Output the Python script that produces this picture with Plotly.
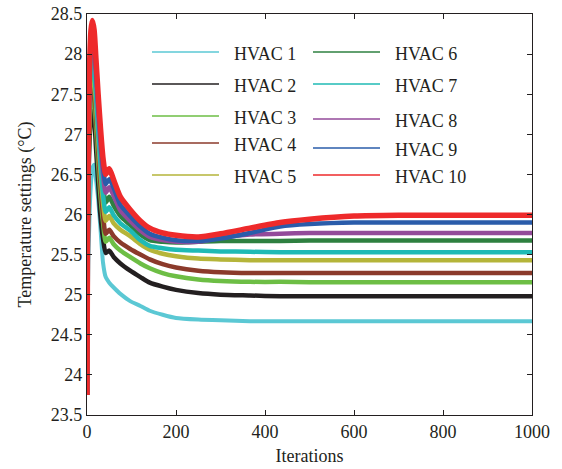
import plotly.graph_objects as go

# Iteration grid at which the temperature settings are sampled
iterations = [0, 1, 3, 6, 9, 12, 16, 20, 25, 30, 36, 42, 50, 60, 75, 97,
              120, 141, 170, 200, 250, 300, 366, 434, 500, 600, 700, 1000]

hvac1 = [23.75, 24.50, 25.40, 26.05, 26.40, 26.57, 26.62, 26.45, 26.20, 25.85, 25.40, 25.22, 25.15, 25.09,
         25.01, 24.92, 24.86, 24.80, 24.75, 24.71, 24.69, 24.68, 24.67, 24.67, 24.67, 24.67, 24.67, 24.67]
hvac2 = [23.75, 25.10, 26.30, 26.95, 27.20, 27.29, 27.20, 26.85, 26.40, 26.00, 25.70, 25.52, 25.55, 25.47,
         25.39, 25.30, 25.22, 25.15, 25.10, 25.06, 25.02, 25.00, 24.99, 24.98, 24.98, 24.98, 24.98, 24.98]
hvac3 = [23.75, 25.20, 26.50, 27.15, 27.45, 27.57, 27.45, 27.10, 26.65, 26.25, 25.90, 25.66, 25.71, 25.63,
         25.55, 25.47, 25.39, 25.33, 25.27, 25.23, 25.19, 25.17, 25.16, 25.16, 25.155, 25.155, 25.155, 25.155]
hvac4 = [23.75, 25.25, 26.60, 27.25, 27.57, 27.70, 27.58, 27.25, 26.80, 26.40, 26.00, 25.76, 25.81, 25.73,
         25.65, 25.57, 25.50, 25.44, 25.38, 25.34, 25.30, 25.28, 25.27, 25.27, 25.27, 25.27, 25.27, 25.27]
hvac5 = [23.75, 25.30, 26.70, 27.40, 27.72, 27.85, 27.72, 27.38, 26.95, 26.55, 26.15, 25.92, 25.98, 25.89,
         25.81, 25.73, 25.63, 25.56, 25.51, 25.48, 25.45, 25.44, 25.43, 25.43, 25.43, 25.43, 25.43, 25.43]
hvac6 = [23.75, 25.35, 26.85, 27.60, 27.93, 28.07, 27.95, 27.60, 27.15, 26.75, 26.37, 26.15, 26.22, 26.11,
         25.98, 25.87, 25.75, 25.68, 25.66, 25.65, 25.66, 25.67, 25.67, 25.67, 25.675, 25.675, 25.675, 25.675]
hvac7 = [23.75, 25.35, 26.80, 27.52, 27.85, 27.98, 27.85, 27.50, 27.05, 26.65, 26.25, 26.03, 26.09, 25.99,
         25.89, 25.80, 25.68, 25.61, 25.58, 25.56, 25.55, 25.54, 25.535, 25.53, 25.53, 25.53, 25.53, 25.53]
hvac8 = [23.75, 25.40, 26.90, 27.75, 28.12, 28.25, 28.10, 27.75, 27.30, 26.90, 26.50, 26.27, 26.34, 26.23,
         26.05, 25.92, 25.80, 25.72, 25.68, 25.66, 25.66, 25.71, 25.75, 25.76, 25.77, 25.77, 25.77, 25.77]
hvac9 = [23.75, 25.45, 26.95, 27.82, 28.20, 28.33, 28.20, 27.85, 27.40, 27.00, 26.60, 26.38, 26.44, 26.33,
         26.12, 25.98, 25.85, 25.76, 25.71, 25.68, 25.67, 25.70, 25.77, 25.85, 25.88, 25.90, 25.90, 25.90]
hvac10 = [23.75, 25.50, 27.00, 27.90, 28.30, 28.42, 28.30, 27.95, 27.50, 27.10, 26.70, 26.50, 26.57, 26.43,
          26.22, 26.06, 25.92, 25.83, 25.77, 25.74, 25.72, 25.76, 25.83, 25.90, 25.94, 25.98, 25.99, 25.99]

series = [hvac1, hvac2, hvac3, hvac4, hvac5, hvac6, hvac7, hvac8, hvac9, hvac10]
names = ["HVAC 1", "HVAC 2", "HVAC 3", "HVAC 4", "HVAC 5",
         "HVAC 6", "HVAC 7", "HVAC 8", "HVAC 9", "HVAC 10"]
colors = ["#5BC8D4", "#231F20", "#6DBE45", "#8B3A2B", "#B5B53A",
          "#2E8040", "#1FBAB5", "#934A9A", "#2A5CAA", "#EE2A2B"]
widths = [4, 4.5, 4.5, 4.5, 4.5, 4.5, 4.5, 4.5, 4.5, 5.5]

x_ticks = [0, 200, 400, 600, 800, 1000]
y_ticks = [23.5, 24, 24.5, 25, 25.5, 26, 26.5, 27, 27.5, 28, 28.5]
y_tick_text = ["23.5", "24", "24.5", "25", "25.5", "26", "26.5", "27", "27.5", "28", "28.5"]

FONT = "Liberation Serif, Times New Roman, serif"
INK = "#231F20"

fig = go.Figure()
for ys, name, color, w in zip(series, names, colors, widths):
    fig.add_trace(go.Scatter(
        x=iterations, y=ys, name=name, mode="lines",
        line=dict(color=color, width=w, shape="spline", smoothing=0.6),
        showlegend=False,
    ))

# Two-column key in the upper part of the axes
L, R, T, B = 87, 532, 14, 415
W, H = 562, 469
pw, ph = R - L, B - T


def px_x(p):
    return (p - L) / pw


def px_y(p):
    return (B - p) / ph


col_x = [(152, 219, 232), (313, 380, 393)]
row_y = [[52, 84, 116, 143, 175], [52, 84, 119, 148, 175]]
for i, (name, color) in enumerate(zip(names, colors)):
    c, r = divmod(i, 5)
    x0, x1, xt = col_x[c]
    yy = row_y[c][r]
    fig.add_shape(type="line", xref="paper", yref="paper",
                  x0=px_x(x0), x1=px_x(x1), y0=px_y(yy), y1=px_y(yy),
                  line=dict(color=color, width=1.6))
    fig.add_annotation(xref="paper", yref="paper", x=px_x(xt), y=px_y(yy + 2),
                       text=name, showarrow=False, xanchor="left", yanchor="middle",
                       font=dict(family=FONT, size=18, color=INK))

axis_common = dict(
    showline=True, linecolor=INK, linewidth=1.3, mirror="ticks",
    ticks="inside", ticklen=5, tickcolor=INK, tickwidth=1,
    showgrid=False, zeroline=False, automargin=False,
    tickfont=dict(family=FONT, size=18, color=INK),
)

fig.update_layout(
    width=W, height=H,
    margin=dict(l=L, r=W - R, t=T, b=H - B),
    paper_bgcolor="white", plot_bgcolor="white",
    xaxis=dict(range=[0, 1000], tickvals=x_ticks,
               title=dict(text="Iterations", standoff=8,
                          font=dict(family=FONT, size=18, color=INK)),
               **axis_common),
    yaxis=dict(range=[23.5, 28.5], tickvals=y_ticks, ticktext=y_tick_text,
               title=dict(text="Temperature settings (°C)", standoff=14,
                          font=dict(family=FONT, size=18, color=INK)),
               **axis_common),
)

fig.write_html("out.html")
